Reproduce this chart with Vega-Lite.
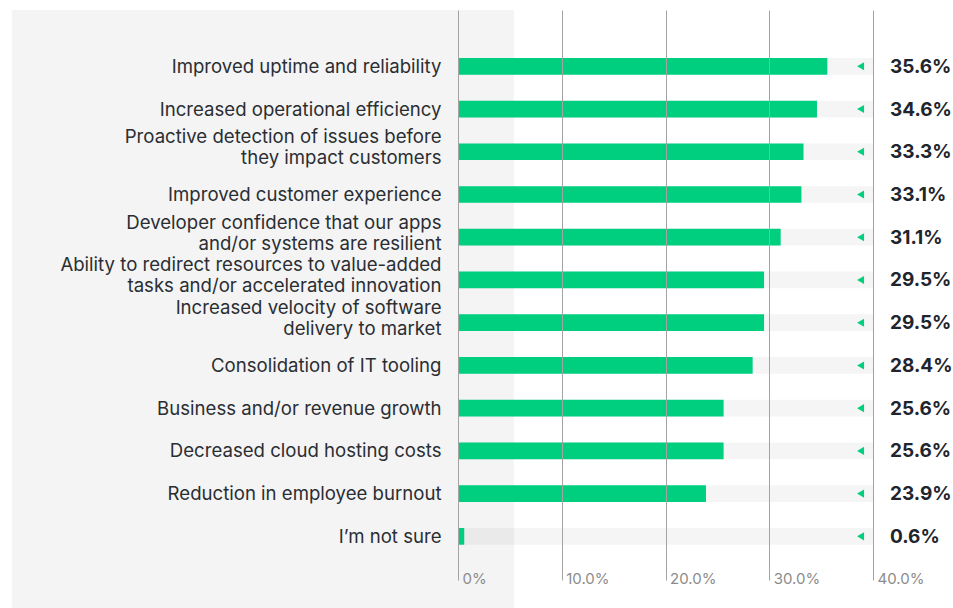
{
  "$schema": "https://vega.github.io/schema/vega-lite/v6.json",
  "width": 415,
  "height": 570,
  "autosize": {"type": "none"},
  "padding": {"left": 458, "top": 10, "right": 80, "bottom": 28},
  "background": "white",
  "config": {"view": {"stroke": null}, "font": "Inter"},
  "datasets": {
    "rows": [
      {"category": "Improved uptime and reliability", "value": 35.6, "label": "35.6%"},
      {"category": "Increased operational efficiency", "value": 34.6, "label": "34.6%"},
      {"category": "Proactive detection of issues before|they impact customers", "value": 33.3, "label": "33.3%"},
      {"category": "Improved customer experience", "value": 33.1, "label": "33.1%"},
      {"category": "Developer confidence that our apps|and/or systems are resilient", "value": 31.1, "label": "31.1%"},
      {"category": "Ability to redirect resources to value-added|tasks and/or accelerated innovation", "value": 29.5, "label": "29.5%"},
      {"category": "Increased velocity of software|delivery to market", "value": 29.5, "label": "29.5%"},
      {"category": "Consolidation of IT tooling", "value": 28.4, "label": "28.4%"},
      {"category": "Business and/or revenue growth", "value": 25.6, "label": "25.6%"},
      {"category": "Decreased cloud hosting costs", "value": 25.6, "label": "25.6%"},
      {"category": "Reduction in employee burnout", "value": 23.9, "label": "23.9%"},
      {"category": "I’m not sure", "value": 0.6, "label": "0.6%"}
    ],
    "panel": [{"panel": "left"}]
  },
  "layer": [
    {
      "data": {"name": "panel"},
      "mark": {"type": "rect", "color": "#f4f4f4"},
      "encoding": {
        "x": {"datum": -43, "type": "quantitative", "scale": {"domain": [0, 40], "nice": false, "zero": false}},
        "x2": {"datum": 5.4},
        "y": {"datum": 1, "type": "quantitative", "scale": {"domain": [0, 1], "nice": false}, "axis": null},
        "y2": {"datum": -0.05}
      }
    },
    {
      "data": {"name": "rows"},
      "layer": [
        {
          "mark": {"type": "bar", "color": "#000000", "opacity": 0.04},
          "encoding": {
            "y": {"field": "category", "type": "nominal", "sort": null,
              "scale": {"paddingInner": 0.609, "paddingOuter": 0.974, "align": 0.576},
              "axis": {"orient": "left", "zindex": 1, "title": null, "domain": false, "ticks": false, "labelPadding": 17,
                "labelFontSize": 18.6, "labelColor": "#2a2e33", "labelLineHeight": 21,
                "labelOffset": {"condition": {"test": "indexof(datum.value, '|') >= 0", "value": -14.5}, "value": 0.5},
                "labelExpr": "split(datum.label, '|')", "labelLimit": 500, "labelFont": "Inter"}},
            "x": {"datum": 0, "type": "quantitative",
              "scale": {"domain": [0, 40], "nice": false},
              "axis": {"title": null, "values": [0, 10, 20, 30, 40], "grid": true, "gridColor": "#a3a3a3",
                "gridWidth": 1, "domain": false, "ticks": false, "labelAlign": "left", "labelOffset": 4,
                "labelBaseline": "middle", "labelPadding": -2, "labelFontSize": 15, "labelColor": "#8c8c8c",
                "labelFont": "Inter", "zindex": 1,
                "labelExpr": "datum.value == 0 ? '0%' : format(datum.value, '.1f') + '%'"}},
            "x2": {"datum": 40}
          }
        },
        {
          "mark": {"type": "bar", "color": "#00cf80"},
          "encoding": {
            "y": {"field": "category", "type": "nominal", "sort": null},
            "x": {"field": "value", "type": "quantitative"}
          }
        },
        {
          "mark": {"type": "point", "shape": "triangle-left", "filled": true, "color": "#00cf80", "size": 65, "opacity": 1},
          "encoding": {
            "y": {"field": "category", "type": "nominal", "sort": null},
            "x": {"datum": 38.8, "type": "quantitative"}
          }
        },
        {
          "mark": {"type": "text", "align": "left", "baseline": "middle", "dx": 17, "dy": 0.5, "fontSize": 19,
            "fontWeight": "bold", "color": "#1f252d", "font": "Inter"},
          "encoding": {
            "y": {"field": "category", "type": "nominal", "sort": null},
            "x": {"datum": 40, "type": "quantitative"},
            "text": {"field": "label"}
          }
        }
      ]
    }
  ],
  "resolve": {"scale": {"y": "independent"}}
}
